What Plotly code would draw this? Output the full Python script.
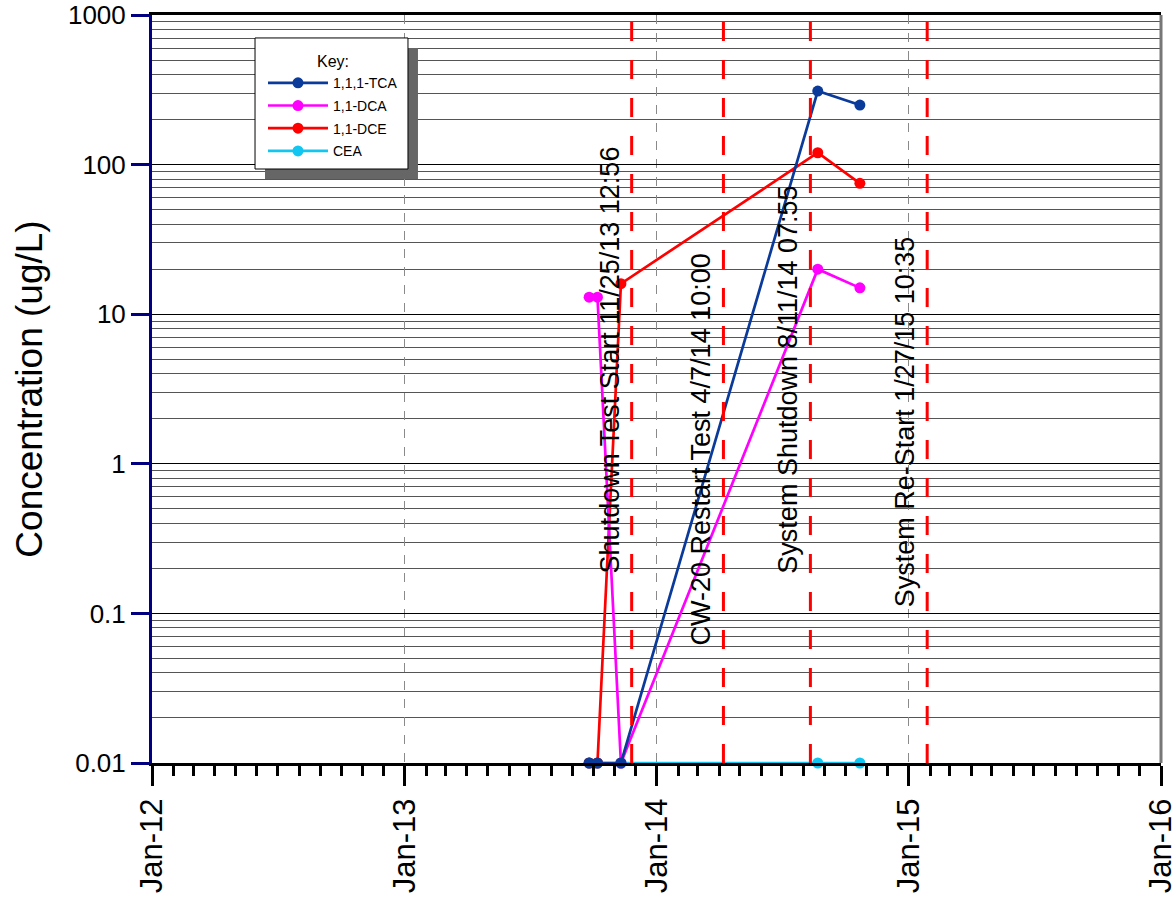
import plotly.graph_objects as go

# ---- data ----
sample_dates = ["2013-09-25", "2013-10-07", "2013-11-10", "2014-08-22", "2014-10-22"]
tca = [0.01, 0.01, 0.01, 310, 250]
dca = [13, 13, 0.01, 20, 15]
dce = [0.01, 0.01, 16, 120, 75]
cea = [0.01, 0.01, 0.01, 0.01, 0.01]

series_names = ["1,1,1-TCA", "1,1-DCA", "1,1-DCE", "CEA"]
series_colors = ["#0a3a9a", "#ff00ff", "#ff0000", "#12c6f2"]

event_dates = ["2013-11-25 12:56", "2014-04-07 10:00", "2014-08-11 07:55", "2015-01-27 10:35"]
event_labels = ["Shutdown Test Start 11/25/13 12:56", "CW-20 Restart Test 4/7/14 10:00",
                "System Shutdown 8/11/14 07:55", "System Re-Start 1/27/15 10:35"]
event_label_bottom = [-0.745, -1.225, -0.745, -0.975]  # log10 position of label bottom

y_tickvals = [0.01, 0.1, 1, 10, 100, 1000]
y_ticktext = ["0.01", "0.1", "1", "10", "100", "1000"]

FONT = "Arial, Liberation Sans, sans-serif"

fig = go.Figure()
values = [tca, dca, dce, cea]
# draw order: CEA, DCE, DCA, TCA (TCA markers on top); legend order via legendrank
order = [3, 2, 1, 0]
for i in order:
    fig.add_trace(go.Scatter(
        x=sample_dates, y=values[i], name=series_names[i],
        mode="lines+markers",
        line=dict(color=series_colors[i], width=2.7),
        marker=dict(color=series_colors[i], size=11),
        legendrank=i + 1, legendgroup=series_names[i],
        cliponaxis=False,
    ))

shapes = []
# legend shadow + box
shapes.append(dict(type="rect", xref="paper", yref="paper", x0=0.1120, x1=0.2636, y0=0.7807, y1=0.9559,
                   fillcolor="#666666", line=dict(width=0), layer="above"))
shapes.append(dict(type="rect", xref="paper", yref="paper", x0=0.1021, x1=0.2537, y0=0.7941, y1=0.9693,
                   fillcolor="white", line=dict(color="black", width=1), layer="above"))
# event lines
for d in event_dates:
    shapes.append(dict(type="line", xref="x", yref="paper", x0=d, x1=d, y0=0, y1=0.995,
                       line=dict(color="#ff0000", width=3, dash="19px,19px"), layer="above"))
# right border
shapes.append(dict(type="line", xref="paper", yref="paper", x0=1, x1=1, y0=0, y1=1,
                   line=dict(color="#777777", width=3)))

annotations = []
for d, t, yb in zip(event_dates, event_labels, event_label_bottom):
    annotations.append(dict(x=d, y=yb, xref="x", yref="y", text=t, textangle=-90,
                            showarrow=False, xanchor="right", yanchor="bottom", xshift=-5,
                            font=dict(family=FONT, size=27, color="black")))

fig.update_layout(
    width=1175, height=902,
    margin=dict(l=152, r=14, t=15, b=139),
    paper_bgcolor="white", plot_bgcolor="white",
    font=dict(family=FONT, color="black"),
    showlegend=True,
    legend=dict(x=0.110, y=0.958, xanchor="left", yanchor="top",
                bgcolor="rgba(0,0,0,0)", borderwidth=0, itemwidth=60, tracegroupgap=1.5,
                font=dict(family=FONT, size=14),
                title=dict(text="Key:", side="top center", font=dict(family=FONT, size=16))),
    shapes=shapes,
    annotations=annotations,
)

fig.update_xaxes(
    range=["2012-01-01", "2016-01-01"], automargin=False,
    dtick="M12", tick0="2012-01-01", tickformat="%b-%y", tickangle=-90,
    tickfont=dict(family=FONT, size=31), ticklabeloverflow="allow",
    ticks="outside", ticklen=20, tickwidth=3, tickcolor="black",
    showline=True, linecolor="black", linewidth=3, mirror=True,
    showgrid=True, gridcolor="#8a8a8a", gridwidth=1, griddash="dash",
    minor=dict(dtick="M1", ticks="outside", ticklen=10, tickwidth=3, tickcolor="black", showgrid=False),
    zeroline=False,
)
fig.update_yaxes(
    type="log", range=[-2, 3], automargin=False,
    tickvals=y_tickvals, ticktext=y_ticktext,
    tickfont=dict(family=FONT, size=26), ticklabeloverflow="allow",
    ticks="outside", ticklen=18, tickwidth=3, tickcolor="#000080",
    showline=True, linecolor="#000080", linewidth=3,
    showgrid=True, gridcolor="black", gridwidth=1,
    minor=dict(dtick="D1", showgrid=True, gridcolor="#555555", gridwidth=1, ticks=""),
    title=dict(text="Concentration (ug/L)", font=dict(family=FONT, size=37)),
    zeroline=False,
)

# remove the default 8px page margin so the figure fills the window exactly
fig.write_html("out.html", config={"displayModeBar": False},
               post_script="document.body.style.margin='0';document.body.style.overflow='hidden';")
